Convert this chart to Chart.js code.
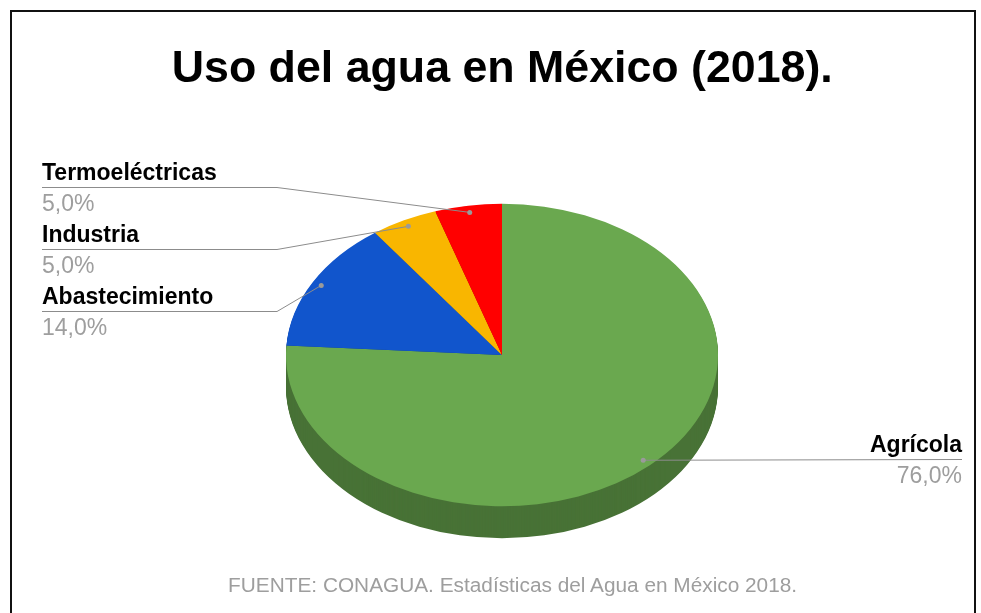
<!DOCTYPE html>
<html lang="es">
<head>
<meta charset="utf-8">
<title>Uso del agua en México (2018)</title>
<script src="https://cdn.jsdelivr.net/npm/chart.js@4.4.1/dist/chart.umd.min.js"></script>
<style>
  html, body { margin: 0; padding: 0; background: #fff; overflow: hidden; }
  #marco {
    position: absolute; left: 10px; top: 10px; width: 966px; height: 640px;
    border: 2px solid #111; box-sizing: border-box;
  }
  #grafico { position: absolute; left: 0; top: 0; }
  .texto {
    position: absolute; width: 981px; text-align: center; white-space: nowrap;
    font-family: "Liberation Sans", Arial, sans-serif; line-height: 1;
  }
  #titulo { left: 12px; top: 45px; font-size: 44px; font-weight: bold; color: #000; }
  #fuente { left: 22px; top: 576px; font-size: 19.5px; color: #9e9e9e; }
</style>
</head>
<body>
<div id="marco"></div>
<canvas id="grafico" width="981" height="613"></canvas>
<div class="texto" id="titulo">Uso del agua en México (2018).</div>
<div class="texto" id="fuente">FUENTE: CONAGUA. Estadísticas del Agua en México 2018.</div>
<script>
// Datos
const categorias = ["Agrícola", "Abastecimiento", "Industria", "Termoeléctricas"];
const porcentajes = [76, 14, 5, 5];
const etiquetasValor = ["76,0%", "14,0%", "5,0%", "5,0%"];

const colores = ["#6aa84f", "#1155cc", "#f9b600", "#ff0000"];

// Aspecto 3D: achatamiento vertical y grosor del disco
const inclinacion = 0.70;
const grosor = 32;

// Posiciones de las etiquetas (x texto, y línea, x codo, alineación)
const posEtiquetas = [
  { x: 962, linea: 459, codo: null, align: "right" },
  { x: 42, linea: 311, codo: 277, align: "left" },
  { x: 42, linea: 249, codo: 277, align: "left" },
  { x: 42, linea: 187, codo: 277, align: "left" },
];

// Ajuste horizontal de título y fuente
function estirar(id, ancho) {
  const el = document.getElementById(id);
  const span = document.createElement("span");
  span.textContent = el.textContent;
  el.textContent = "";
  el.appendChild(span);
  span.style.display = "inline-block";
  const w = span.getBoundingClientRect().width;
  span.style.transform = "scaleX(" + (ancho / w) + ")";
}

function oscurecer(hex, f) {
  const n = parseInt(hex.slice(1), 16);
  const r = Math.round(((n >> 16) & 255) * f);
  const g = Math.round(((n >> 8) & 255) * f);
  const b = Math.round((n & 255) * f);
  return "rgb(" + r + "," + g + "," + b + ")";
}

function elipse(ctx, cx, cy) {
  ctx.translate(cx, cy);
  ctx.scale(1, inclinacion);
  ctx.translate(-cx, -cy);
}

// Plugin: lado del disco y achatamiento
const pastel3D = {
  id: "pastel3D",
  beforeDatasetsDraw(chart) {
    const ctx = chart.ctx;
    const arcos = chart.getDatasetMeta(0).data;
    const { x, y } = arcos[0].getProps(["x", "y"], true);
    for (let d = grosor; d >= 1; d--) {
      ctx.save();
      ctx.translate(0, d);
      elipse(ctx, x, y);
      arcos.forEach((arco, i) => {
        const p = arco.getProps(["startAngle", "endAngle", "outerRadius"], true);
        ctx.beginPath();
        ctx.moveTo(x, y);
        ctx.arc(x, y, p.outerRadius, p.startAngle, p.endAngle);
        ctx.closePath();
        ctx.fillStyle = oscurecer(colores[i], 0.68);
        ctx.fill();
      });
      ctx.restore();
    }
    ctx.save();
    elipse(ctx, x, y);
  },
  afterDatasetsDraw(chart) {
    chart.ctx.restore();
  },
};

// Plugin: etiquetas con líneas guía
const etiquetas = {
  id: "etiquetas",
  afterDraw(chart) {
    const ctx = chart.ctx;
    const arcos = chart.getDatasetMeta(0).data;
    arcos.forEach((arco, i) => {
      const p = arco.getProps(["x", "y", "startAngle", "endAngle", "outerRadius"], true);
      const medio = (p.startAngle + p.endAngle) / 2;
      const r = p.outerRadius * 0.955;
      const px = p.x + Math.cos(medio) * r;
      const py = p.y + Math.sin(medio) * r * inclinacion;
      const pos = posEtiquetas[i];

      ctx.save();
      ctx.strokeStyle = "#8c8c8c";
      ctx.lineWidth = 1;
      ctx.beginPath();
      if (pos.align === "left") {
        ctx.moveTo(pos.x, pos.linea + 0.5);
        ctx.lineTo(pos.codo, pos.linea + 0.5);
        ctx.lineTo(px, py);
      } else {
        ctx.moveTo(px, py);
        ctx.lineTo(pos.x, pos.linea + 0.5);
      }
      ctx.stroke();

      ctx.fillStyle = "#9a9a9a";
      ctx.beginPath();
      ctx.arc(px, py, 2.5, 0, Math.PI * 2);
      ctx.fill();

      ctx.textAlign = pos.align;
      ctx.textBaseline = "alphabetic";
      ctx.font = "bold 23px 'Liberation Sans', Arial, sans-serif";
      ctx.fillStyle = "#000";
      ctx.fillText(categorias[i], pos.x, pos.linea - 7);
      ctx.font = "23px 'Liberation Sans', Arial, sans-serif";
      ctx.fillStyle = "#9e9e9e";
      ctx.fillText(etiquetasValor[i], pos.x, pos.linea + 24);
      ctx.restore();
    });
  },
};

new Chart(document.getElementById("grafico").getContext("2d"), {
  type: "pie",
  data: {
    labels: categorias,
    datasets: [
      {
        data: porcentajes,
        backgroundColor: colores,
        borderWidth: 0,
      },
    ],
  },
  options: {
    responsive: false,
    animation: false,
    layout: { padding: { left: 286, right: 263, top: 139, bottom: 42 } },
    plugins: {
      legend: { display: false },
      tooltip: { enabled: false },
    },
    events: [],
  },
  plugins: [pastel3D, etiquetas],
});

estirar("titulo", 661);
estirar("fuente", 569);
</script>
</body>
</html>
